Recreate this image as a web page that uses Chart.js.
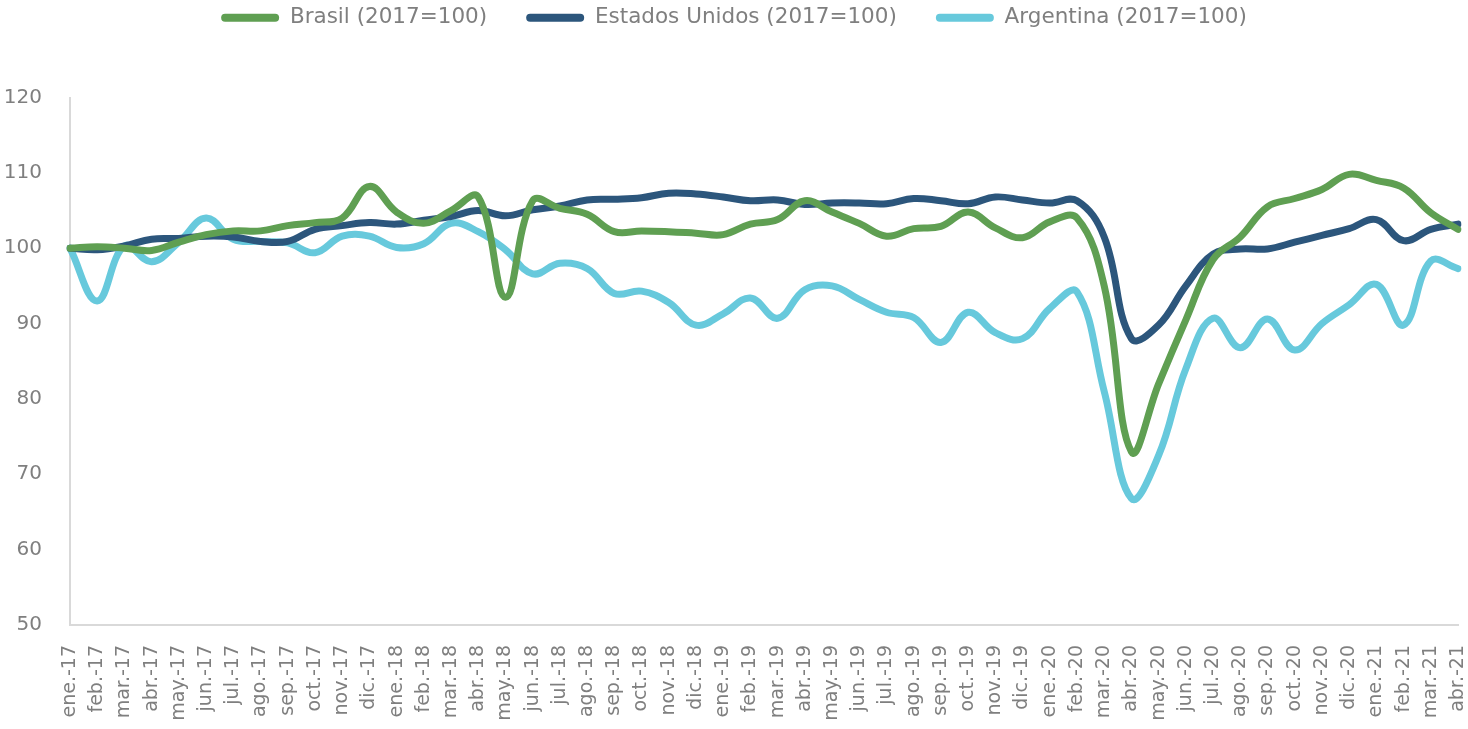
<!DOCTYPE html>
<html>
<head>
<meta charset="utf-8">
<script src="https://cdn.jsdelivr.net/npm/chart.js@4"></script>
<style>
  html, body { margin: 0; padding: 0; background: #fff; }
  #wrap { width: 1468px; height: 729px; }
</style>
</head>
<body>
<div id="wrap"><canvas id="chart"></canvas></div>
<script>
// months, ene.-17 .. abr.-21
const months = [
  'ene.-17','feb.-17','mar.-17','abr.-17','may.-17','jun.-17','jul.-17','ago.-17','sep.-17','oct.-17','nov.-17','dic.-17',
  'ene.-18','feb.-18','mar.-18','abr.-18','may.-18','jun.-18','jul.-18','ago.-18','sep.-18','oct.-18','nov.-18','dic.-18',
  'ene.-19','feb.-19','mar.-19','abr.-19','may.-19','jun.-19','jul.-19','ago.-19','sep.-19','oct.-19','nov.-19','dic.-19',
  'ene.-20','feb.-20','mar.-20','abr.-20','may.-20','jun.-20','jul.-20','ago.-20','sep.-20','oct.-20','nov.-20','dic.-20',
  'ene.-21','feb.-21','mar.-21','abr.-21'
];

const brasil = [
  100, 100.2, 100, 99.7, 100.8, 101.8, 102.3, 102.3, 103, 103.4, 104, 108.2,
  104.8, 103.3, 105, 106.8, 93.5, 106.3, 105.3, 104.5, 102.2, 102.3, 102.2, 102,
  101.8, 103.2, 103.8, 106.3, 104.8, 103.3, 101.6, 102.6, 102.9, 104.8, 102.7, 101.4,
  103.5, 104, 95, 73, 82, 90.5, 98.5, 101.5, 105.5, 106.6, 107.8, 109.8,
  109, 108, 104.7, 102.5
];

const estadosUnidos = [
  100, 99.8, 100.3, 101.2, 101.3, 101.6, 101.5, 100.9, 100.9, 102.5, 103, 103.4,
  103.2, 103.7, 104.2, 105, 104.3, 105.1, 105.6, 106.4, 106.5, 106.7, 107.3, 107.2,
  106.8, 106.3, 106.4, 105.8, 106, 106, 105.9, 106.6, 106.3, 105.9, 106.8, 106.4,
  106, 106.3, 101.5, 88, 89.8, 95, 99.2, 99.9, 99.9, 100.8, 101.7, 102.6,
  103.8, 101, 102.5, 103.2
];

const argentina = [
  100, 93, 100.3, 98.2, 100.8, 104, 101.2, 100.9, 100.7, 99.4, 101.6, 101.6,
  100.1, 100.6, 103.3, 102.2, 99.8, 96.6, 98, 97.3, 94, 94.3, 92.8, 89.8,
  91.3, 93.4, 90.7, 94.5, 95, 93.2, 91.5, 90.8, 87.5, 91.5, 88.8, 88,
  92, 94.2, 81, 66.8, 72.5, 84, 90.7, 86.8, 90.6, 86.5, 90, 92.5,
  95.2, 89.8, 98.3, 97.3
];

const seriesNames = ['Brasil (2017=100)', 'Estados Unidos (2017=100)', 'Argentina (2017=100)'];
const seriesColors = ['#5f9f52', '#2c567c', '#67c9dc'];

const yTicks = { min: 50, max: 120, step: 10 };

const gray = '#7f7f7f';
const axisLine = '#d9d9d9';
const fontFamily = '"DejaVu Sans", Verdana, sans-serif';

function makeSet(name, values, color) {
  return {
    label: name,
    data: values,
    borderColor: color,
    backgroundColor: color,
    borderWidth: 7,
    pointRadius: 0,
    pointHoverRadius: 0,
    tension: 0.4,
    borderCapStyle: 'round',
    borderJoinStyle: 'round',
    fill: false
  };
}

// push the plot area down below the legend
const legendGap = {
  id: 'legendGap',
  beforeInit(chart) {
    const fit = chart.legend.fit;
    chart.legend.fit = function () {
      fit.bind(chart.legend)();
      this.height += 59;
    };
  }
};

new Chart(document.getElementById('chart'), {
  type: 'line',
  data: {
    labels: months,
    datasets: [
      makeSet(seriesNames[0], brasil, seriesColors[0]),
      makeSet(seriesNames[1], estadosUnidos, seriesColors[1]),
      makeSet(seriesNames[2], argentina, seriesColors[2])
    ]
  },
  options: {
    responsive: true,
    maintainAspectRatio: false,
    animation: false,
    layout: { padding: { left: 0, right: 0, top: -32, bottom: 0 } },
    plugins: {
      tooltip: { enabled: false },
      legend: {
        position: 'top',
        labels: {
          color: gray,
          font: { family: fontFamily, size: 21.5 },
          boxWidth: 58,
          boxHeight: 8,
          padding: 39,
          generateLabels(chart) {
            return chart.data.datasets.map((ds, i) => ({
              text: ds.label,
              fillStyle: ds.borderColor,
              strokeStyle: ds.borderColor,
              lineWidth: 0,
              fontColor: gray,
              datasetIndex: i,
              borderRadius: 4
            }));
          }
        }
      }
    },
    scales: {
      x: {
        offset: false,
        grid: { display: false },
        border: { display: true, color: axisLine, width: 2 },
        ticks: {
          color: gray,
          font: { family: fontFamily, size: 19 },
          autoSkip: false,
          minRotation: 90,
          maxRotation: 90,
          padding: 12
        },
        afterFit(scale) {
          scale.height = 104;
          scale.paddingLeft = 0;
          scale.paddingRight = 10;
        }
      },
      y: {
        min: yTicks.min,
        max: yTicks.max,
        grid: { display: false },
        border: { display: true, color: axisLine, width: 2 },
        ticks: {
          stepSize: yTicks.step,
          color: gray,
          font: { family: fontFamily, size: 20 },
          padding: 20
        },
        afterFit(scale) { scale.width = 70; }
      }
    }
  },
  plugins: [legendGap]
});
</script>
</body>
</html>
